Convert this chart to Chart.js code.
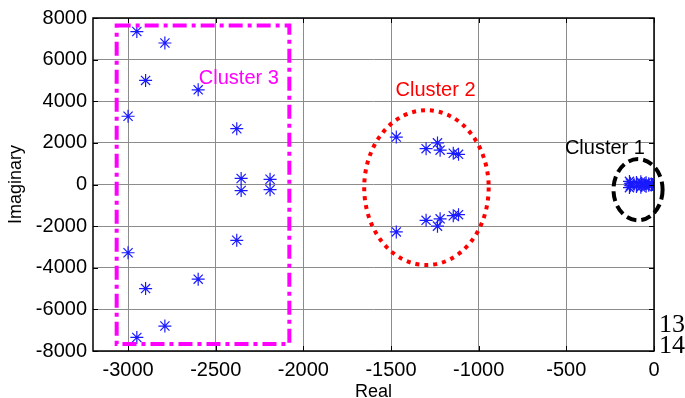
<!DOCTYPE html>
<html lang="en">
<head>
<meta charset="UTF-8">
<title>Eigenvalue clusters</title>
<script src="https://cdn.jsdelivr.net/npm/chart.js"></script>
<style>
  html, body { margin: 0; padding: 0; background: #fff; }
  canvas { display: block; }
</style>
</head>
<body>
<canvas id="grafico" width="685" height="398"></canvas>
<script>
// eigenvalues: real and imaginary parts (conjugate pairs)
const realCluster1 = [-140, -140, -135, -135, -100, -100, -75, -75, -70, -70, -45, -45, -30, -30, -15, -15, -8];
const imagCluster1 = [150, -150, 60, -60, 100, -100, 130, -130, 50, -50, 80, -80, 40, -40, 20, -20, 0];

const realCluster2 = [-1470, -1300, -1235, -1220, -1145, -1115, -1470, -1300, -1235, -1220, -1145, -1115];
const imagCluster2 = [2280, 1720, 2000, 1650, 1500, 1450, -2280, -1720, -2000, -1650, -1500, -1450];

const realCluster3 = [-2950, -2790, -2900, -2600, -3000, -2380, -2355, -2190, -2950, -2790, -2900, -2600, -3000, -2380, -2355, -2190];
const imagCluster3 = [7350, 6800, 5000, 4550, 3280, 2680, 290, 250, -7350, -6800, -5000, -4550, -3280, -2680, -290, -250];

// axis ticks
const xTicks = [-3000, -2500, -2000, -1500, -1000, -500, 0];
const yTicks = [-8000, -6000, -4000, -2000, 0, 2000, 4000, 6000, 8000];

// outlines around each group (data units)
const box3 = { x0: -3065, x1: -2080, y0: -7660, y1: 7640 };
const ring2 = { cx: -1298, cy: -150, rx: 355, ry: 3720 };
const ring1 = { cx: -91, cy: -250, rx: 140, ry: 1470 };

const pares = (xs, ys) => xs.map((x, i) => ({ x: x, y: ys[i] }));
const todos = pares(realCluster1, imagCluster1)
  .concat(pares(realCluster2, imagCluster2))
  .concat(pares(realCluster3, imagCluster3));

const fonte = "'Liberation Sans', Arial, sans-serif";

const contornos = {
  id: 'contornos',
  afterDatasetsDraw(chart) {
    const ctx = chart.ctx;
    const sx = chart.scales.x, sy = chart.scales.y;
    const a = chart.chartArea;
    ctx.save();

    // inward tick marks on all four sides + box
    ctx.strokeStyle = '#000';
    ctx.lineWidth = 1;
    ctx.beginPath();
    xTicks.forEach(v => {
      const px = Math.round(sx.getPixelForValue(v)) + 0.5;
      ctx.moveTo(px, a.bottom); ctx.lineTo(px, a.bottom - 5);
      ctx.moveTo(px, a.top); ctx.lineTo(px, a.top + 5);
    });
    yTicks.forEach(v => {
      const py = Math.round(sy.getPixelForValue(v)) + 0.5;
      ctx.moveTo(a.left, py); ctx.lineTo(a.left + 5, py);
      ctx.moveTo(a.right, py); ctx.lineTo(a.right - 5, py);
    });
    ctx.stroke();
    ctx.lineWidth = 1.5;
    ctx.strokeRect(a.left, a.top, a.right - a.left, a.bottom - a.top);

    // cluster 3 box
    ctx.strokeStyle = '#ff00ff';
    ctx.lineWidth = 4;
    ctx.setLineDash([14, 5, 4, 5]);
    const l = sx.getPixelForValue(box3.x0), r = sx.getPixelForValue(box3.x1);
    const t = sy.getPixelForValue(box3.y1), b = sy.getPixelForValue(box3.y0);
    ctx.strokeRect(l, t, r - l, b - t);

    // cluster 2 ring
    ctx.strokeStyle = '#ff0000';
    ctx.setLineDash([4, 5]);
    ctx.beginPath();
    ctx.ellipse(sx.getPixelForValue(ring2.cx), sy.getPixelForValue(ring2.cy),
      Math.abs(sx.getPixelForValue(ring2.cx + ring2.rx) - sx.getPixelForValue(ring2.cx)),
      Math.abs(sy.getPixelForValue(ring2.cy + ring2.ry) - sy.getPixelForValue(ring2.cy)),
      0, 0, Math.PI * 2);
    ctx.stroke();

    // cluster 1 ring
    ctx.strokeStyle = '#000';
    ctx.setLineDash([10, 5]);
    ctx.beginPath();
    ctx.ellipse(sx.getPixelForValue(ring1.cx), sy.getPixelForValue(ring1.cy),
      Math.abs(sx.getPixelForValue(ring1.cx + ring1.rx) - sx.getPixelForValue(ring1.cx)),
      Math.abs(sy.getPixelForValue(ring1.cy + ring1.ry) - sy.getPixelForValue(ring1.cy)),
      0, 0, Math.PI * 2);
    ctx.stroke();
    ctx.setLineDash([]);

    // labels
    ctx.font = '20px ' + fonte;
    ctx.textAlign = 'center';
    ctx.textBaseline = 'middle';
    ctx.fillStyle = '#ff00ff';
    ctx.fillText('Cluster 3', sx.getPixelForValue(-2368), sy.getPixelForValue(5100));
    ctx.fillStyle = '#ff0000';
    ctx.fillText('Cluster 2', sx.getPixelForValue(-1246), sy.getPixelForValue(4500));
    ctx.fillStyle = '#000';
    ctx.fillText('Cluster 1', sx.getPixelForValue(-280), sy.getPixelForValue(1730));

    ctx.font = "26px 'Liberation Serif', 'Times New Roman', serif";
    ctx.textAlign = 'left';
    ctx.fillText('13', a.right + 5, 325);
    ctx.fillText('14', a.right + 5, 346);
    ctx.restore();
  }
};

new Chart(document.getElementById('grafico'), {
  type: 'scatter',
  data: {
    datasets: [{
      data: todos,
      pointStyle: 'star',
      pointRadius: 6.5,
      borderColor: '#1a1aff',
      backgroundColor: '#1a1aff',
      borderWidth: 1.2
    }]
  },
  plugins: [contornos],
  options: {
    responsive: false,
    animation: false,
    events: [],
    layout: { padding: { top: 18, right: 31, left: 0, bottom: 0 } },
    plugins: { legend: { display: false }, tooltip: { enabled: false } },
    scales: {
      x: {
        type: 'linear',
        min: -3200,
        max: 0,
        afterBuildTicks: s => { s.ticks = xTicks.map(v => ({ value: v })); },
        afterFit: s => { s.height = 47; },
        grid: { color: '#8c8c8c', drawTicks: false, lineWidth: 1 },
        border: { display: false },
        ticks: { color: '#000', font: { size: 20, family: fonte }, padding: 7, maxRotation: 0, autoSkip: false, callback: v => String(v) },
        title: { display: true, text: 'Real', color: '#000', font: { size: 18, family: fonte }, padding: { top: 0, bottom: -5 } }
      },
      y: {
        type: 'linear',
        min: -8000,
        max: 8000,
        afterBuildTicks: s => { s.ticks = yTicks.map(v => ({ value: v })); },
        afterFit: s => { s.width = 93; },
        grid: { color: '#8c8c8c', drawTicks: false, lineWidth: 1 },
        border: { display: false },
        ticks: { color: '#000', font: { size: 20, family: fonte }, padding: 6, autoSkip: false, callback: v => String(v) },
        title: { display: true, text: 'Imaginary', color: '#000', font: { size: 18, family: fonte }, padding: { top: 5, bottom: 0 } }
      }
    }
  }
});
</script>
</body>
</html>
